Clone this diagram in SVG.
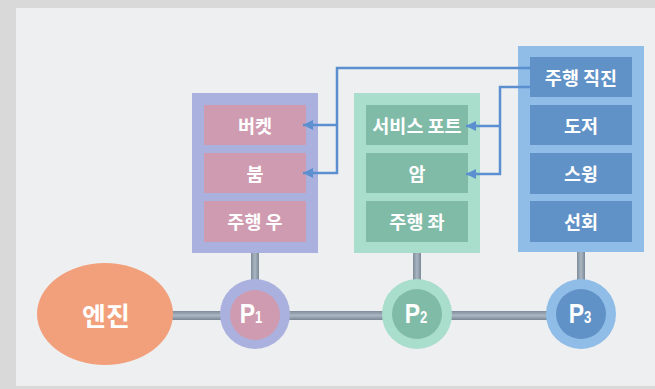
<svg xmlns="http://www.w3.org/2000/svg" width="655" height="389" viewBox="0 0 655 389">
  <defs>
    <linearGradient id="barV" x1="0" y1="0" x2="0" y2="1">
      <stop offset="0" stop-color="#7e8c9a"/>
      <stop offset="0.5" stop-color="#aab6c2"/>
      <stop offset="1" stop-color="#7a8896"/>
    </linearGradient>
    <linearGradient id="barH" x1="0" y1="0" x2="1" y2="0">
      <stop offset="0" stop-color="#7e8c9a"/>
      <stop offset="0.5" stop-color="#aab6c2"/>
      <stop offset="1" stop-color="#7a8896"/>
    </linearGradient>
    <marker id="arrow" markerUnits="userSpaceOnUse" markerWidth="11" markerHeight="10" refX="10" refY="5" orient="auto">
      <path d="M0,0 L10,5 L0,10 z" fill="#5b8fd0"/>
    </marker>
    <style>
      .lbl { font-family: "Noto Sans CJK KR", "Noto Sans", sans-serif; font-weight: 700; font-size: 18.5px; fill: #ffffff; text-anchor: middle; dominant-baseline: central; }
      .big { font-size: 26px; }
      .pl { font-family: "Liberation Sans", Arial, sans-serif; font-weight: 700; fill: #ffffff; text-anchor: middle; }
      .conn { fill: none; stroke: #5b8fd0; stroke-width: 2.5; }
      .p1o { fill: #aab1de; } .p1i { fill: #cf9bb0; }
      .p2o { fill: #a9ddcc; } .p2i { fill: #80bba8; }
      .p3o { fill: #8fbde7; } .p3i { fill: #6092c7; }
    </style>
  </defs>

  <!-- background -->
  <rect x="0" y="0" width="655" height="389" fill="#d9d9da"/>
  <rect x="16" y="8" width="639" height="378" fill="#eeeff0"/>

  <!-- shafts -->
  <g id="shafts">
    <rect x="170" y="311" width="380" height="9" fill="url(#barV)"/>
    <rect x="251" y="250" width="8" height="32" fill="url(#barH)"/>
    <rect x="413" y="250" width="8" height="32" fill="url(#barH)"/>
    <rect x="577" y="250" width="8" height="32" fill="url(#barH)"/>
  </g>

  <!-- engine -->
  <g id="engine">
    <ellipse cx="105" cy="314" rx="68" ry="51" fill="#f2a07c"/>
    <text class="lbl big" x="106" y="314">엔진</text>
  </g>

  <!-- pumps -->
  <g id="pump1">
    <circle class="p1o" cx="255" cy="314" r="35"/>
    <circle class="p1i" cx="255" cy="315" r="25"/>
    <text class="pl" transform="translate(251,323) scale(0.82,1)"><tspan font-size="28">P</tspan><tspan font-size="16">1</tspan></text>
  </g>
  <g id="pump2">
    <circle class="p2o" cx="417" cy="314" r="35"/>
    <circle class="p2i" cx="417" cy="314" r="25"/>
    <text class="pl" transform="translate(416,323) scale(0.82,1)"><tspan font-size="28">P</tspan><tspan font-size="16">2</tspan></text>
  </g>
  <g id="pump3">
    <circle class="p3o" cx="581" cy="314" r="35"/>
    <circle class="p3i" cx="581" cy="314" r="25"/>
    <text class="pl" transform="translate(580,323) scale(0.82,1)"><tspan font-size="28">P</tspan><tspan font-size="16">3</tspan></text>
  </g>

  <!-- panel P1 -->
  <g id="panel1">
    <rect class="p1o" x="192" y="93" width="126" height="160"/>
    <rect class="p1i" x="204" y="105" width="102" height="40"/>
    <rect class="p1i" x="204" y="153" width="102" height="40"/>
    <rect class="p1i" x="204" y="201" width="102" height="41"/>
    <text class="lbl" x="255" y="125">버켓</text>
    <text class="lbl" x="255" y="173">붐</text>
    <text class="lbl" x="255" y="221">주행 우</text>
  </g>

  <!-- panel P2 -->
  <g id="panel2">
    <rect class="p2o" x="354" y="93" width="126" height="160"/>
    <rect class="p2i" x="366" y="105" width="102" height="40"/>
    <rect class="p2i" x="366" y="153" width="102" height="40"/>
    <rect class="p2i" x="366" y="201" width="102" height="41"/>
    <text class="lbl" x="417" y="125">서비스 포트</text>
    <text class="lbl" x="417" y="173">암</text>
    <text class="lbl" x="417" y="221">주행 좌</text>
  </g>

  <!-- panel P3 -->
  <g id="panel3">
    <rect class="p3o" x="518" y="46" width="126" height="206"/>
    <rect class="p3i" x="530" y="57" width="102" height="40"/>
    <rect class="p3i" x="530" y="105" width="102" height="40"/>
    <rect class="p3i" x="530" y="153" width="102" height="41"/>
    <rect class="p3i" x="530" y="201" width="102" height="41"/>
    <text class="lbl" x="581" y="77">주행 직진</text>
    <text class="lbl" x="581" y="125">도저</text>
    <text class="lbl" x="581" y="173">스윙</text>
    <text class="lbl" x="581" y="221">선회</text>
  </g>

  <!-- connectors -->
  <g id="connectors">
    <path class="conn" d="M531,68 H337 V173 H303" marker-end="url(#arrow)"/>
    <path class="conn" d="M337,125 H303" marker-end="url(#arrow)"/>
    <path class="conn" d="M531,87 H500 V174 H466" marker-end="url(#arrow)"/>
    <path class="conn" d="M500,126 H466" marker-end="url(#arrow)"/>
  </g>
</svg>
